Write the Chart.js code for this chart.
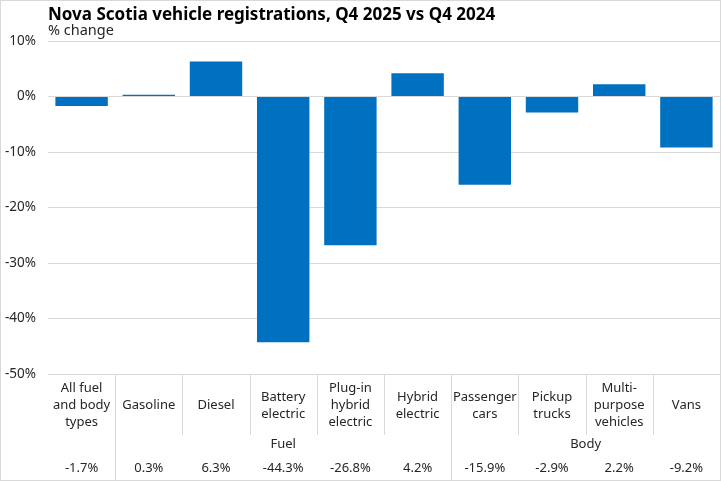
<!DOCTYPE html>
<html>
<head>
<meta charset="utf-8">
<script src="https://cdn.jsdelivr.net/npm/chart.js@4.4.1/dist/chart.umd.min.js"></script>
<style>
html,body{margin:0;padding:0;background:#fff;}
#wrap{width:721px;height:481px;position:relative;}
</style>
</head>
<body>
<div id="wrap"><canvas id="c"></canvas></div>
<script>
const titleText = "Nova Scotia vehicle registrations, Q4 2025 vs Q4 2024";
const subtitleText = "% change";
const categories = [
  ["All fuel","and body","types"],
  ["Gasoline"],
  ["Diesel"],
  ["Battery","electric"],
  ["Plug-in","hybrid","electric"],
  ["Hybrid","electric"],
  ["Passenger","cars"],
  ["Pickup","trucks"],
  ["Multi-","purpose","vehicles"],
  ["Vans"]
];
const values = [-1.7, 0.3, 6.3, -44.3, -26.8, 4.2, -15.9, -2.9, 2.2, -9.2];
const groups = [
  {label: "Fuel", from: 1, to: 5},
  {label: "Body", from: 6, to: 9}
];
const yTicks = [10, 0, -10, -20, -30, -40, -50];

const FONT = "'Noto Sans', sans-serif";
const GRID = "#d9d9d9";

const tablePlugin = {
  id: 'tablePlugin',
  afterDraw(chart) {
    const ctx = chart.ctx;
    const x = chart.scales.x;
    const area = chart.chartArea;
    const W = chart.width, H = chart.height;
    ctx.save();
    // title
    ctx.fillStyle = "#000";
    ctx.textAlign = "left";
    ctx.textBaseline = "middle";
    ctx.font = "bold 17px " + FONT;
    ctx.fillText(titleText, area.left, 15);
    ctx.font = "14.5px " + FONT;
    ctx.fillStyle = "#262626";
    ctx.fillText(subtitleText, area.left, 31);

    const half = (x.getPixelForValue(1) - x.getPixelForValue(0)) / 2;
    const bandTop = area.bottom;
    const bandBottom = area.bottom + 61;
    // separators
    ctx.strokeStyle = GRID;
    ctx.lineWidth = 1;
    const groupStarts = groups.map(g => g.from);
    for (let i = 1; i < categories.length; i++) {
      const px = Math.round(x.getPixelForValue(i) - half) + 0.5;
      const full = groupStarts.includes(i);
      ctx.beginPath();
      ctx.moveTo(px, bandTop);
      ctx.lineTo(px, full ? H : bandBottom);
      ctx.stroke();
    }
    // category labels
    ctx.fillStyle = "#262626";
    ctx.font = "13px " + FONT;
    ctx.textAlign = "center";
    const lh = 17;
    const mid = (bandTop + bandBottom) / 2 + 1;
    categories.forEach((lines, i) => {
      const cx = x.getPixelForValue(i);
      const start = mid - (lines.length - 1) * lh / 2;
      lines.forEach((t, j) => ctx.fillText(t, cx, start + j * lh));
    });
    // group labels
    groups.forEach(g => {
      const l = x.getPixelForValue(g.from) - half;
      const r = x.getPixelForValue(g.to) + half;
      ctx.fillText(g.label, (l + r) / 2, area.bottom + 70);
    });
    // values row
    values.forEach((v, i) => {
      ctx.fillText(v.toFixed(1) + "%", x.getPixelForValue(i), area.bottom + 94);
    });
    // chart border
    ctx.strokeStyle = GRID;
    ctx.strokeRect(0.5, 0.5, W - 1, H - 1);
    ctx.restore();
  }
};

new Chart(document.getElementById('c'), {
  type: 'bar',
  data: {
    labels: categories,
    datasets: [{
      data: values,
      backgroundColor: "#0070C0",
      barPercentage: 0.78,
      categoryPercentage: 1.0
    }]
  },
  options: {
    responsive: true,
    maintainAspectRatio: false,
    animation: false,
    layout: { padding: { top: 41, bottom: 107, left: 0, right: 1 } },
    plugins: { legend: { display: false }, tooltip: { enabled: false } },
    scales: {
      x: {
        grid: { display: false },
        border: { display: false },
        ticks: { display: false },
        afterFit(s) { s.height = 0; }
      },
      y: {
        min: -50, max: 10,
        afterFit(s) { s.width = 48; },
        afterBuildTicks(s) { s.ticks = yTicks.map(v => ({ value: v })); },
        grid: { color: GRID, drawTicks: false },
        border: { display: false },
        ticks: {
          padding: 12,
          color: "#262626",
          font: { family: "'Noto Sans', sans-serif", size: 13.5 },
          callback: v => v + "%"
        }
      }
    }
  },
  plugins: [tablePlugin]
});
</script>
</body>
</html>
